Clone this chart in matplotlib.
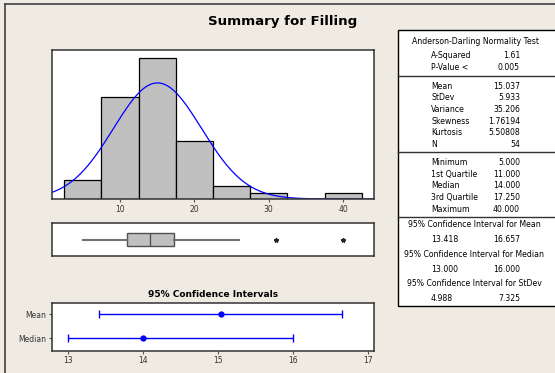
import numpy as np
import matplotlib
matplotlib.use('Agg')
import matplotlib.pyplot as plt
from matplotlib.patches import Rectangle
from matplotlib.lines import Line2D

# histogram of Filling (bins of width 5)
bin_centers = [5, 10, 15, 20, 25, 30, 35, 40]
bin_counts = [3, 16, 22, 9, 2, 1, 0, 1]

# summary statistics
mean = 15.037
stdev = 5.933
n_obs = 54
q1, median, q3 = 11.0, 14.0, 17.25
minimum, maximum = 5.0, 40.0
whisker_hi = 26.0
outliers = [31, 40]

ci_labels = ['Mean', 'Median']
ci_center = [15.037, 14.0]
ci_low = [13.418, 13.0]
ci_high = [16.657, 16.0]

table_rows = [
    ('A-Squared', '1.61'), ('P-Value <', '0.005'), None,
    ('Mean', '15.037'), ('StDev', '5.933'), ('Variance', '35.206'),
    ('Skewness', '1.76194'), ('Kurtosis', '5.50808'), ('N', '54'), None,
    ('Minimum', '5.000'), ('1st Quartile', '11.000'), ('Median', '14.000'),
    ('3rd Quartile', '17.250'), ('Maximum', '40.000'), None,
]
ci_table = [
    ('95% Confidence Interval for Mean', '13.418', '16.657'),
    ('95% Confidence Interval for Median', '13.000', '16.000'),
    ('95% Confidence Interval for StDev', '4.988', '7.325'),
]

W, H = 555, 373
bg = '#efebe2'
frame = '#333333'
fig = plt.figure(figsize=(W / 100, H / 100), dpi=100, facecolor=bg)


def px(x, y):
    return x / W, 1 - y / H


def box(x0, y0, x1, y1):
    return [x0 / W, 1 - y1 / H, (x1 - x0) / W, (y1 - y0) / H]


# outer frame
fig.add_artist(Line2D([5 / W, 5 / W], [0, 1 - 4 / H], color='#404040', lw=1.2))
fig.add_artist(Line2D([5 / W, 1], [1 - 4 / H, 1 - 4 / H], color='#404040', lw=1.2))

fig.text(*px(283, 21), 'Summary for Filling', ha='center', va='center',
         fontsize=9.6, fontweight='bold', color='black')

xlim = (0.85, 44.15)

# histogram with fitted normal curve
ax1 = fig.add_axes(box(52, 50, 374, 199))
ax1.bar(bin_centers, bin_counts, width=5, color='#c0c0c0', edgecolor='black', lw=0.9)
xs = np.linspace(xlim[0], xlim[1], 300)
pdf = n_obs * 5 / (stdev * np.sqrt(2 * np.pi)) * np.exp(-0.5 * ((xs - mean) / stdev) ** 2)
ax1.plot(xs, pdf, color='#0000ff', lw=0.9)
ax1.set_xlim(xlim)
ax1.set_ylim(0, 23.3)
ax1.set_yticks([])
ax1.set_xticks([10, 20, 30, 40])
ax1.tick_params(axis='x', length=2.5, width=0.8, color='#555555', labelsize=5.5,
                labelcolor='#333333', pad=1.5)

# boxplot
ax2 = fig.add_axes(box(52, 222.7, 374, 256.3))
stats = [dict(med=median, q1=q1, q3=q3, whislo=minimum, whishi=whisker_hi, fliers=outliers)]
ax2.bxp(stats, vert=False, widths=0.37, showcaps=False, patch_artist=True,
        boxprops=dict(facecolor='#c0c0c0', edgecolor='#505050', lw=1),
        medianprops=dict(color='#505050', lw=1),
        whiskerprops=dict(color='#707070', lw=1.5),
        flierprops=dict(marker='*', markersize=3.2, markerfacecolor='#222222',
                        markeredgecolor='#222222'))
ax2.set_xlim(xlim)
ax2.set_ylim(0.5, 1.5)
ax2.set_xticks([])
ax2.set_yticks([])

# confidence intervals
ax3 = fig.add_axes(box(52, 302.7, 374, 350.7))
ypos = [1, 0]
for y, c, lo, hi in zip(ypos, ci_center, ci_low, ci_high):
    ax3.errorbar(c, y, xerr=[[c - lo], [hi - c]], fmt='o', color='#0000ff',
                 ms=3.5, lw=1, capsize=3, capthick=1)
ax3.set_xlim(12.787, 17.08)
ax3.set_ylim(-0.52, 1.485)
ax3.set_xticks([13, 14, 15, 16, 17])
ax3.set_yticks(ypos)
ax3.set_yticklabels(ci_labels)
ax3.tick_params(length=2.5, width=0.8, color='#555555', labelsize=5.5,
                labelcolor='#333333', pad=1.5)
ax3.set_title('95% Confidence Intervals', fontsize=6.5, fontweight='bold', pad=4)

for ax in (ax1, ax2, ax3):
    ax.set_facecolor('white')
    for s in ax.spines.values():
        s.set_color(frame)
        s.set_linewidth(1.1)

# statistics table
fig.add_artist(Rectangle(px(397.5, 306), (W + 5 - 397.5) / W, 276 / H,
                         facecolor='white', edgecolor='black', lw=1))
tfs = 5.6
fig.text(*px(476, 42), 'Anderson-Darling Normality Test', ha='center', va='center', fontsize=tfs)
y = 56
for row in table_rows:
    if row is None:
        yl = y - 3.5
        fig.add_artist(Line2D([397.5 / W, 1], [1 - yl / H] * 2, color='#333333', lw=1))
        y += 7
        continue
    fig.text(*px(431, y), row[0], ha='left', va='center', fontsize=tfs)
    fig.text(*px(520, y), row[1], ha='right', va='center', fontsize=tfs)
    y += 11.6
y = 225
for title, lo, hi in ci_table:
    fig.text(*px(474, y), title, ha='center', va='center', fontsize=tfs)
    fig.text(*px(431, y + 14.5), lo, ha='left', va='center', fontsize=tfs)
    fig.text(*px(520, y + 14.5), hi, ha='right', va='center', fontsize=tfs)
    y += 29.5

fig.savefig('out.png', dpi=100, facecolor=bg)
